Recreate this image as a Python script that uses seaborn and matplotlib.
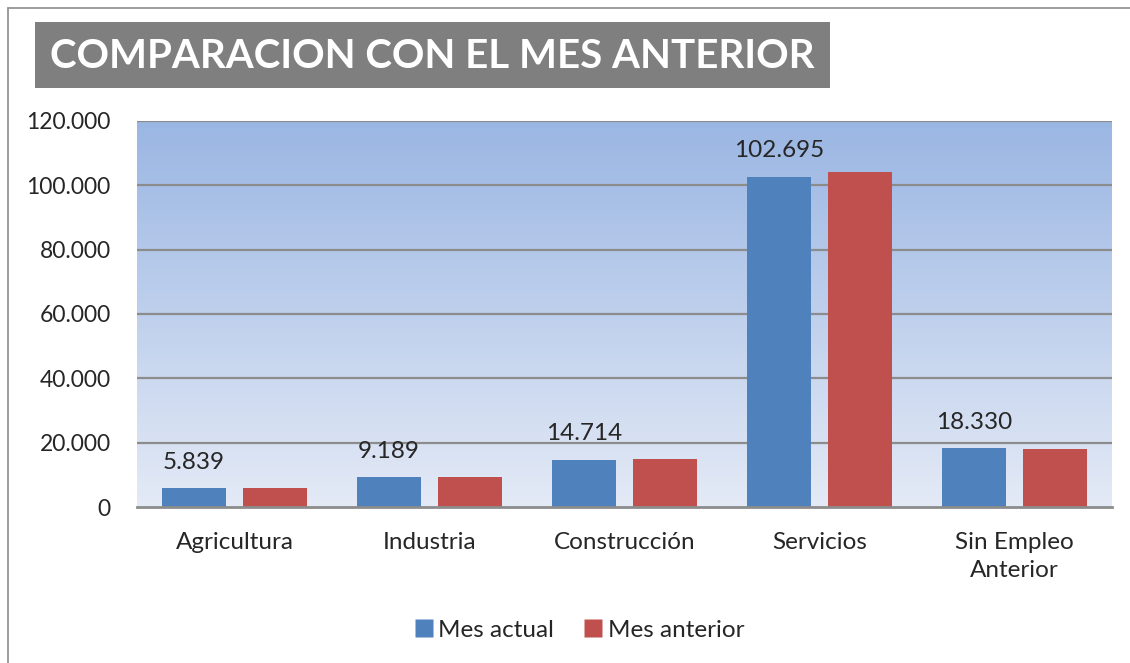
import numpy as np
import pandas as pd
import matplotlib
matplotlib.use("Agg")
import matplotlib.pyplot as plt
from matplotlib.patches import Rectangle
from matplotlib.lines import Line2D
import seaborn as sns

categories = ["Agricultura", "Industria", "Construcción", "Servicios", "Sin Empleo\nAnterior"]
mes_actual = [5839, 9189, 14714, 102695, 18330]
mes_anterior = [5800, 9300, 14900, 104000, 17950]
series_names = ["Mes actual", "Mes anterior"]
yticks = [0, 20000, 40000, 60000, 80000, 100000, 120000]
title = "COMPARACION CON EL MES ANTERIOR"

df = pd.DataFrame({
    "cat": categories * 2,
    "val": mes_actual + mes_anterior,
    "serie": [series_names[0]] * 5 + [series_names[1]] * 5,
})

sns.set_theme(style="white")
plt.rcParams["font.family"] = ["Lato", "DejaVu Sans"]

W, H = 1130, 663
fig = plt.figure(figsize=(W / 100, H / 100), dpi=100)
ax = fig.add_axes([137 / W, 1 - 507 / H, (1112 - 137) / W, (507 - 121) / H])

# gradient background
grad = np.linspace(0, 1, 256).reshape(-1, 1)
top = np.array([0x9A, 0xB6, 0xE3]) / 255
bot = np.array([0xE4, 0xEA, 0xF6]) / 255
img = top[None, None, :] * (1 - grad[:, :, None]) + bot[None, None, :] * grad[:, :, None]
ax.imshow(img, extent=[0, 1, 0, 1], transform=ax.transAxes, aspect="auto", zorder=0)

palette = {series_names[0]: "#4F81BD", series_names[1]: "#C0504D"}
sns.barplot(data=df, x="cat", y="val", hue="serie", palette=palette, width=0.83, gap=0.2,
            saturation=1, ax=ax, zorder=3, legend=False, edgecolor="none")

ax.set_xlim(-0.5, 4.5)
ax.set_ylim(0, 120000)
ax.set_yticks(yticks)
ax.set_yticklabels([f"{v:,}".replace(",", ".") for v in yticks], fontsize=16.5)
ax.tick_params(axis="x", labelsize=17.5, length=0, pad=18)
ax.tick_params(axis="y", length=0, pad=19)
for lbl in ax.get_xticklabels():
    lbl.set_linespacing(1.4)
ax.set_xlabel("")
ax.set_ylabel("")
for v in yticks[1:]:
    ax.axhline(v, color="#8C8C8C", lw=1.6, zorder=1)
for s in ["left", "right", "top"]:
    ax.spines[s].set_visible(False)
ax.spines["bottom"].set_color("#8C8C8C")
ax.spines["bottom"].set_linewidth(2)
ax.spines["bottom"].set_zorder(4)

# labels on first series
cont = ax.containers[0]
ax.bar_label(cont, labels=[f"{v:,}".replace(",", ".") for v in mes_actual], padding=11, fontsize=17.5)

# title box
fig.add_artist(Rectangle((35 / W, 1 - 88 / H), (830 - 35) / W, 66 / H, transform=fig.transFigure,
                         facecolor="#7F7F7F", edgecolor="none"))
fig.text(432 / W, 1 - 56 / H, title, fontsize=29, fontweight="bold", color="white",
         ha="center", va="center")

# legend
handles = [Line2D([0], [0], marker="s", color="none", markerfacecolor=palette[n],
                  markeredgecolor="none", markersize=13) for n in series_names]
fig.legend(handles, series_names, loc="center", bbox_to_anchor=(578 / W, 1 - 630 / H), ncol=2,
           frameon=False, fontsize=17.5, handletextpad=0.1, columnspacing=1.1, handlelength=1)

# outer border
fig.add_artist(Line2D([8 / W, 8 / W], [0, 1 - 8 / H], transform=fig.transFigure, color="#8C8C8C", lw=1.2))
fig.add_artist(Line2D([8 / W, 1], [1 - 8 / H, 1 - 8 / H], transform=fig.transFigure, color="#8C8C8C", lw=1.2))

fig.savefig("out.png", dpi=100)
